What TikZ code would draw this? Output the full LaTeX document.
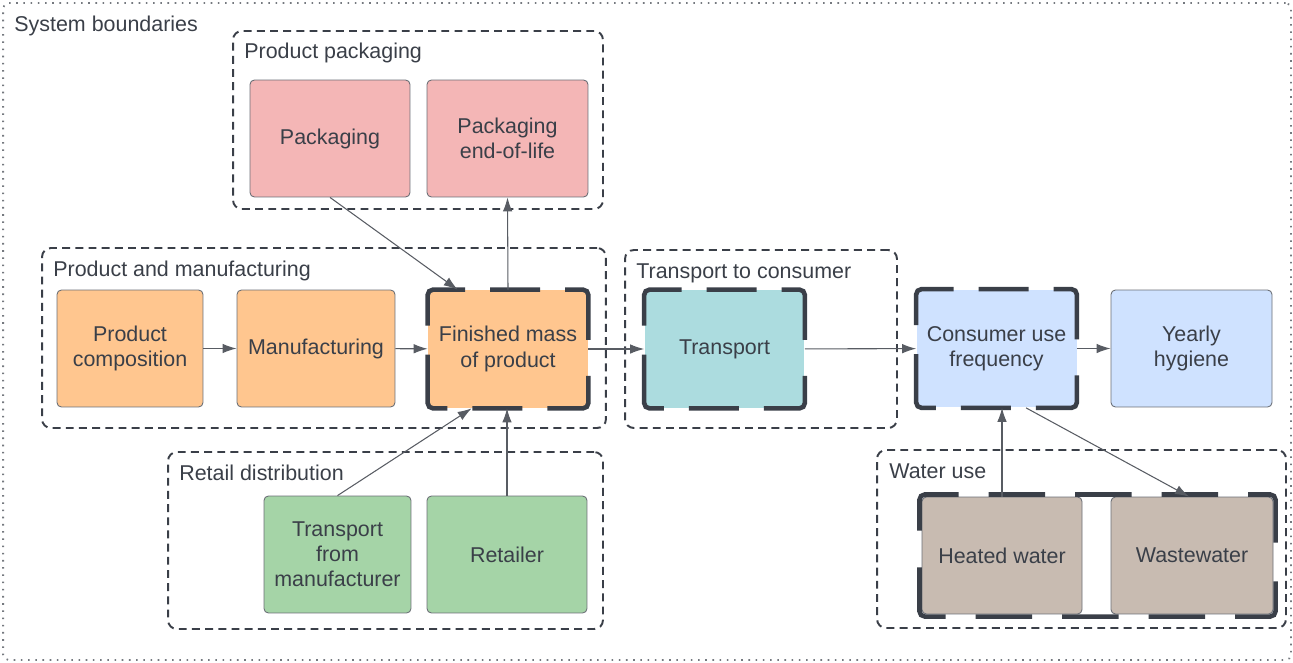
\documentclass[tikz,border=0pt]{standalone}
\usepackage{fontspec}
\setmainfont{Liberation Sans}
\usetikzlibrary{arrows.meta,fit}

\definecolor{ink}{HTML}{3A3F48}
\definecolor{pinkfill}{HTML}{F4B6B6}
\definecolor{orangefill}{HTML}{FFC68F}
\definecolor{tealfill}{HTML}{ACDCDF}
\definecolor{bluefill}{HTML}{CFE2FF}
\definecolor{brownfill}{HTML}{C8BBB1}
\definecolor{greenfill}{HTML}{A5D4A7}

\begin{document}
\begin{tikzpicture}[x=0.02cm, y=-0.02cm,
  font=\fontsize{12.2pt}{14.3pt}\selectfont, text=ink,
  box/.style={rectangle, rounded corners=2.5pt, draw=ink!75, line width=0.5pt,
    minimum height=2.34cm, align=center, inner sep=2pt},
  heavy/.style={rectangle, minimum width=3.2cm, minimum height=2.36cm, align=center, inner sep=2pt},
  heavybox/.style={draw=ink, line width=2.6pt, rounded corners=3pt,
    dash pattern=on 1.42cm off 0.5cm on 1cm off 0.5cm on 1.42cm off 0.72cm, dash phase=5.2cm},
  heavypair/.style={draw=ink, line width=2.6pt, rounded corners=3pt,
    dash pattern=on 1.46cm off 0.6cm on 1.13cm off 0.6cm on 1.13cm off 0.6cm on 1.13cm off 0.6cm on 1.46cm off 0.78cm,
    dash phase=9.1cm},
  group/.style={rectangle, draw=ink, line width=1.1pt, rounded corners=5pt,
    dash pattern=on 4.5pt off 3pt},
  grouplabel/.style={anchor=base west, inner sep=0pt},
  flow/.style={draw=ink!85, line width=0.6pt, -{Latex[length=2.8mm,width=1.9mm]}}]

  \useasboundingbox (0,0) rectangle (1293,662);

  % System boundaries
  \node[rectangle, draw=ink!70, line width=1pt, rounded corners=3pt, dash pattern=on 0.9pt off 3.2pt,
    minimum width=25.76cm, minimum height=13.14cm] (sys) at (647,331.5) {};
  \node[grouplabel] (syslabel) at (14,32) {System boundaries};

  % Groups
  \node[group, minimum width=7.4cm, minimum height=3.56cm] (grpPack) at (418,120) {};
  \node[grouplabel] (lblPack) at (244,59) {Product packaging};
  \node[group, minimum width=11.28cm, minimum height=3.6cm] (grpMan) at (324,338) {};
  \node[grouplabel] (lblMan) at (53,276) {Product and manufacturing};
  \node[group, minimum width=5.44cm, minimum height=3.56cm] (grpTrans) at (761,339) {};
  \node[grouplabel] (lblTrans) at (636,278) {Transport to consumer};
  \node[group, minimum width=8.7cm, minimum height=3.54cm] (grpRetail) at (385.5,540.5) {};
  \node[grouplabel] (lblRetail) at (179,480) {Retail distribution};
  \node[group, minimum width=8.18cm, minimum height=3.56cm] (grpWater) at (1081.5,539) {};
  \node[grouplabel] (lblWater) at (889,478) {Water use};

  % Packaging
  \node[box, fill=pinkfill, minimum width=3.2cm] (pack) at (330,138.5) {Packaging};
  \node[box, fill=pinkfill, minimum width=3.22cm] (eol) at (507.5,138.5) {Packaging\\end-of-life};

  % Product and manufacturing
  \node[box, fill=orangefill, minimum width=2.92cm] (comp) at (130,348.5) {Product\\composition};
  \node[box, fill=orangefill, minimum width=3.16cm] (manu) at (316,348.5) {Manufacturing};
  \node[heavy, fill=orangefill] (fin) at (508,349) {Finished mass\\of product};

  % Transport and use
  \node[heavy, fill=tealfill] (trans) at (724.5,349) {Transport};
  \node[heavy, fill=bluefill] (cons) at (996.5,348.5) {Consumer use\\frequency};
  \node[box, fill=bluefill, minimum width=3.22cm] (yearly) at (1191.5,348.5) {Yearly\\hygiene};

  % Retail distribution
  \node[box, fill=greenfill, minimum width=2.94cm] (tfm) at (337.5,554.5) {Transport\\from\\manufacturer};
  \node[box, fill=greenfill, minimum width=3.2cm] (ret) at (507,554.5) {Retailer};

  % Water use
  \node[box, fill=brownfill, minimum width=3.2cm] (heat) at (1002,555.5) {Heated water};
  \node[box, fill=brownfill, minimum width=3.24cm] (waste) at (1192,555.5) {Wastewater};
  \node[fit=(heat)(waste), inner sep=1pt] (pair) {};

  % Heavy dashed frames
  \draw[heavybox] (fin.west) |- (fin.north east) |- (fin.south west) -- cycle;
  \draw[heavybox] (trans.west) |- (trans.north east) |- (trans.south west) -- cycle;
  \draw[heavybox] (cons.west) |- (cons.north east) |- (cons.south west) -- cycle;
  \draw[heavypair] (pair.west) |- (pair.north east) |- (pair.south west) -- cycle;

  % Arrows
  \draw[flow] (pack.south) -- ([xshift=0.6cm]fin.north west);
  \draw[flow] (fin.north) -- (eol.south);
  \draw[flow] (comp) -- (manu);
  \draw[flow] (manu) -- (fin);
  \draw[flow] (fin) -- (trans);
  \draw[flow] (trans) -- (cons);
  \draw[flow] (cons) -- (yearly);
  \draw[flow] (tfm.north) -- ([xshift=0.88cm]fin.south west);
  \draw[flow] (ret.north) -- (ret.north |- fin.south);
  \draw[flow] (heat.north) -- (heat.north |- cons.south);
  \draw[flow] ([xshift=0.59cm]cons.south) -- ([xshift=-0.06cm]waste.north);
\end{tikzpicture}
\end{document}
